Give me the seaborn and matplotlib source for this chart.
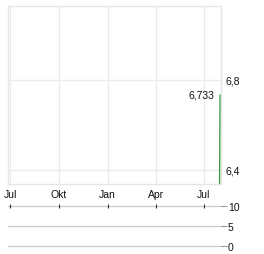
import matplotlib
matplotlib.use("Agg")
import matplotlib.pyplot as plt
import matplotlib.dates as mdates
import seaborn as sns
import pandas as pd
import numpy as np

# ---- data ----
price_dates = ["2024-07-31", "2024-08-01"]
price_values = [6.30, 6.733]
last_label = "6,733"
month_ticks = ["2023-07-01", "2023-10-01", "2024-01-01", "2024-04-01", "2024-07-01"]
month_labels = ["Jul", "Okt", "Jan", "Apr", "Jul"]
price_ticks = [6.4, 6.8]
price_tick_labels = ["6,4", "6,8"]
volume_ticks = [0, 5, 10]
volume_tick_labels = ["0", "5", "10"]
x_range = ["2023-06-27 06:00", "2024-08-02 18:00"]
price_range = [6.336, 7.13]

sns.set_theme(style="white")
plt.rcParams["font.family"] = ["Liberation Sans", "DejaVu Sans"]

W, H = 264, 255
fig = plt.figure(figsize=(W / 100, H / 100), dpi=100)

def rect(x0, y0, x1, y1):
    return [x0 / W, 1 - y1 / H, (x1 - x0) / W, (y1 - y0) / H]

ax = fig.add_axes(rect(8.3, 7, 221, 185))
df = pd.DataFrame({"date": pd.to_datetime(price_dates), "price": price_values})
sns.lineplot(data=df, x="date", y="price", ax=ax, color="#3d9a3d", linewidth=1.0)
ax.set_xlim(mdates.date2num(pd.to_datetime(x_range[0])), mdates.date2num(pd.to_datetime(x_range[1])))
ax.set_ylim(*price_range)
ax.set_xlabel("")
ax.set_ylabel("")
ax.set_xticks(mdates.date2num(pd.to_datetime(month_ticks)))
ax.set_xticklabels(month_labels)
ax.set_yticks(price_ticks)
ax.set_yticklabels(price_tick_labels)
ax.yaxis.tick_right()
ax.tick_params(axis="x", length=0, pad=3.6, labelsize=7.5, colors="#111111")
ax.tick_params(axis="y", length=0, pad=3.5, labelsize=7.5, colors="#111111")
ax.grid(True, color="#ebebeb", linewidth=1.0)
for s in ax.spines.values():
    s.set_color("#e6e6e6")
    s.set_linewidth(1.0)
ax.annotate(last_label, xy=(mdates.date2num(pd.to_datetime(price_dates[-1])), price_values[-1]),
            xytext=(-4, 0), textcoords="offset points", ha="right", va="center",
            fontsize=7.5, color="#111111")

# volume panel
axv = fig.add_axes(rect(8.3, 207.3, 221, 247.3))
axv.set_xlim(ax.get_xlim())
axv.set_ylim(0, 10)
axv.set_yticks(volume_ticks)
axv.set_yticklabels(volume_tick_labels)
axv.yaxis.tick_right()
axv.tick_params(axis="y", length=4, width=0.8, color="#999999", pad=1, labelsize=7.5, colors="#111111")
axv.grid(False)
for v in volume_ticks:
    axv.axhline(v, color="#cccccc", linewidth=1.0, zorder=0, clip_on=False)
for s in axv.spines.values():
    s.set_visible(False)
axv.set_xticks(mdates.date2num(pd.to_datetime(month_ticks)))
axv.xaxis.set_ticks_position("top")
axv.tick_params(axis="x", direction="inout", length=3, width=0.8, color="#333333", labeltop=False, labelbottom=False)
axv.patch.set_alpha(0)

fig.savefig("out.png", dpi=100)
